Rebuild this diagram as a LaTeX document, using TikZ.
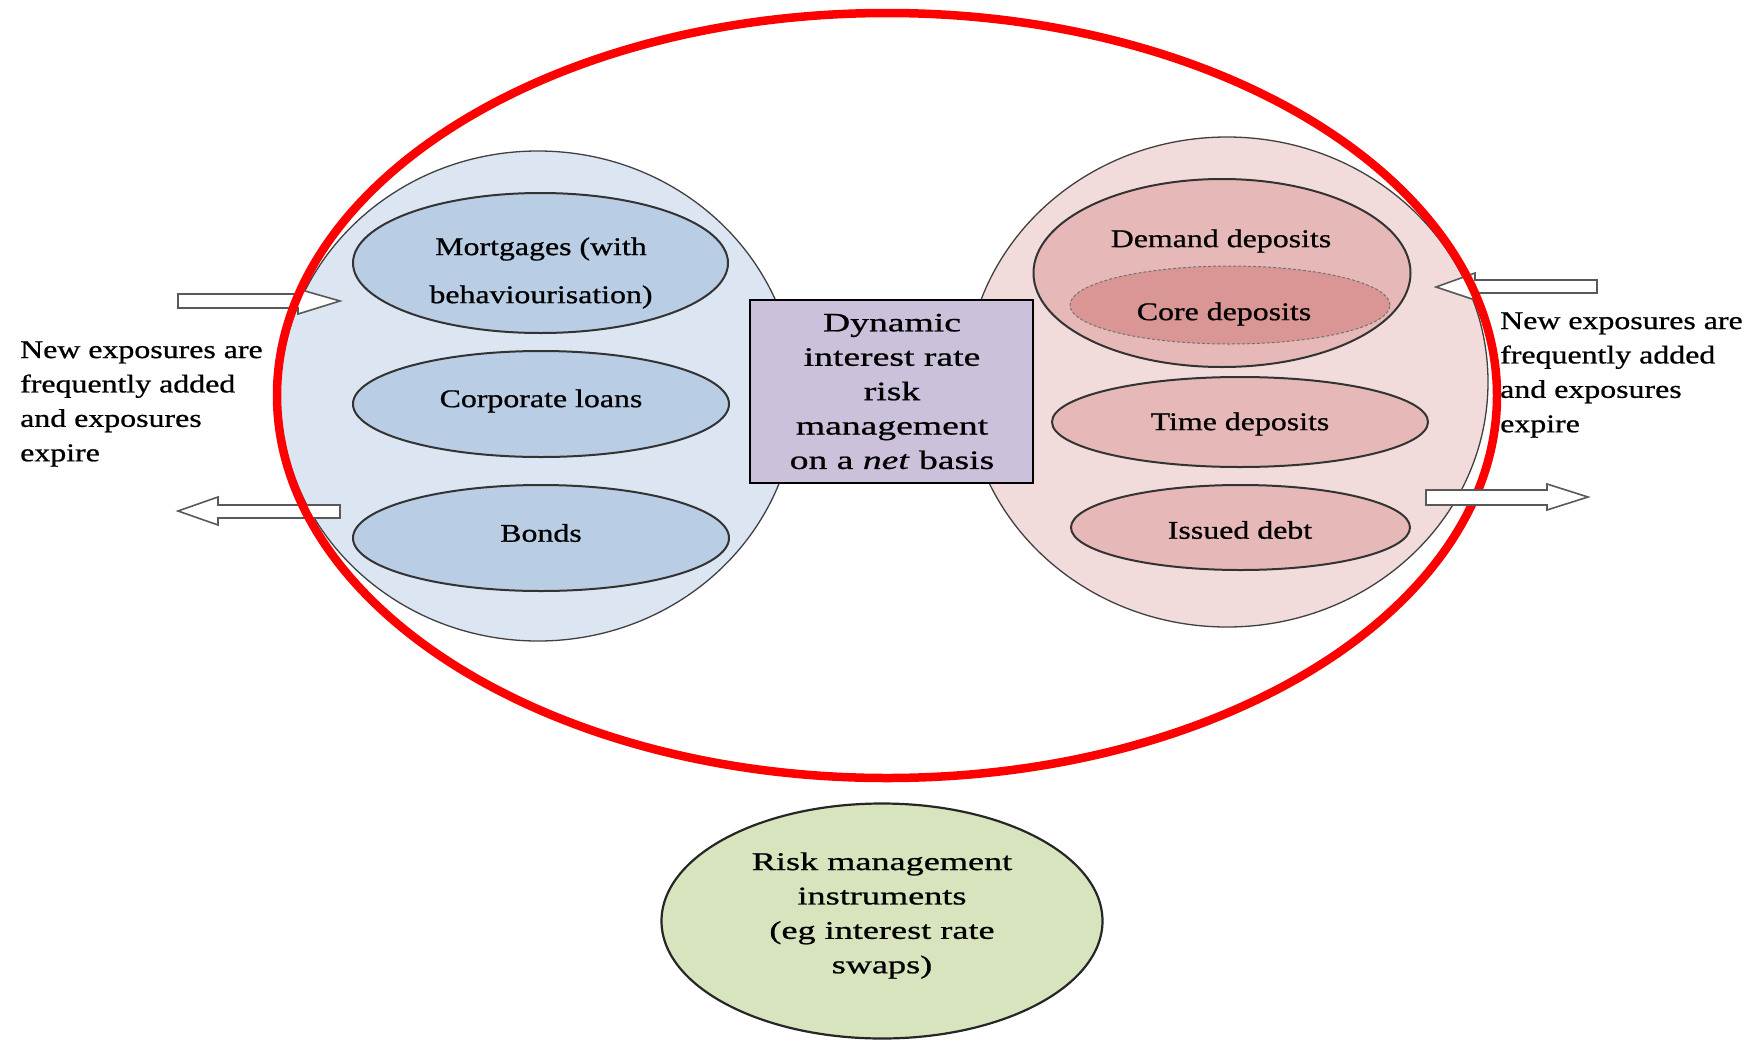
\documentclass[tikz,border=0pt]{standalone}
\usepackage{fontspec}
\setmainfont{Liberation Serif}[FakeStretch=1.25, FakeBold=0.8]
\newfontfamily\widefont{Liberation Serif}[FakeStretch=1.42, FakeBold=0.8]
\usetikzlibrary{shapes.geometric}

\definecolor{assetbg}{HTML}{DCE6F2}
\definecolor{assetitem}{HTML}{B9CDE5}
\definecolor{liabbg}{HTML}{F2DCDB}
\definecolor{liabitem}{HTML}{E6B9B8}
\definecolor{corefill}{HTML}{D99694}
\definecolor{netbox}{HTML}{CCC1DA}
\definecolor{hedgefill}{HTML}{D7E4BD}
\definecolor{scopered}{HTML}{FF0000}

\tikzset{
  side/.style={ellipse, draw=black!75, line width=1.3pt, inner sep=0pt},
  item/.style={ellipse, draw=black!80, line width=2pt, inner sep=0pt},
  lbl/.style={font=\fontsize{25.5}{34.4}\selectfont, inner sep=0pt},
  note/.style={lbl, align=left},
  widetxt/.style={font=\widefont\fontsize{26.5}{34.4}\selectfont, align=center, inner sep=0pt},
  blockarrow/.style={draw=black!65, line width=1.6pt, fill=white, line join=miter},
}

\begin{document}
\begin{tikzpicture}[x=1pt, y=-1pt]
\useasboundingbox (0,0) rectangle (1757,1042);

% asset side and liability side
\node[side, fill=assetbg, minimum width=516, minimum height=490] (assets) at (538,396) {};
\node[side, fill=liabbg, minimum width=522, minimum height=490] (liabs) at (1227,382) {};

% asset items
\node[item, fill=assetitem, minimum width=375, minimum height=140] (mort) at (540.5,263) {};
\node[lbl] (mortA) at (541,249) {Mortgages (with};
\node[lbl] (mortB) at (541,297) {behaviourisation)};
\node[item, fill=assetitem, minimum width=376, minimum height=106] (corp) at (541,404) {};
\node[lbl] (corpT) at (541,401) {Corporate loans};
\node[item, fill=assetitem, minimum width=376, minimum height=106] (bonds) at (541,538) {};
\node[lbl] (bondsT) at (541,533) {Bonds};

% liability items
\node[item, fill=liabitem, minimum width=377, minimum height=188] (demand) at (1222,273) {};
\node[lbl] (demandT) at (1221,241) {Demand deposits};
\node[ellipse, draw=black!55, densely dashed, line width=1pt, inner sep=0pt, fill=corefill,
      minimum width=320, minimum height=78] (core) at (1230,305) {};
\node[lbl] (coreT) at (1224,314) {Core deposits};
\node[item, fill=liabitem, minimum width=376, minimum height=90] (time) at (1240,422) {};
\node[lbl] (timeT) at (1240,424) {Time deposits};
\node[item, fill=liabitem, minimum width=339, minimum height=85] (debt) at (1240.5,527.5) {};
\node[lbl] (debtT) at (1240,530) {Issued debt};

% central management box
\node[draw=black, line width=2.5pt, fill=netbox, minimum width=283, minimum height=183,
      inner sep=0pt] (net) at (891.5,391.5) {};
\node[widetxt] (netT) at (892,391.5) {Dynamic\\interest rate\\risk\\management\\on a \textit{net} basis};

% hedging instruments
\node[ellipse, draw=black!85, line width=2.2pt, fill=hedgefill, inner sep=0pt,
      minimum width=441, minimum height=235] (hedge) at (882,921) {};
\node[widetxt, font=\widefont\fontsize{25.5}{34.4}\selectfont] (hedgeT) at (882,915.5)
  {Risk management\\instruments\\(eg interest rate\\swaps)};

% side notes
\node[note, anchor=west] (noteL) at (20,404) {New exposures are\\frequently added\\and exposures\\expire};
\node[note, anchor=west] (noteR) at (1500,375) {New exposures are\\frequently added\\and exposures\\expire};

% block arrows for new and expiring exposures
\draw[blockarrow] (178,294) -- (298,294) -- (298,289) -- (340,301) -- (298,314) -- (298,308) -- (178,308) -- cycle;
\draw[blockarrow] (340,505) -- (218,505) -- (218,497) -- (178,511) -- (218,525) -- (218,518) -- (340,518) -- cycle;
\draw[blockarrow] (1597,280) -- (1475,280) -- (1475,273) -- (1436,287) -- (1475,300) -- (1475,293) -- (1597,293) -- cycle;

% scope of the net risk management
\node[ellipse, draw=scopered, line width=8.5pt, inner sep=0pt,
      minimum width=1220, minimum height=765] (scope) at (887,395.5) {};

\draw[blockarrow] (1426,490) -- (1547,490) -- (1547,484) -- (1588,497) -- (1547,510) -- (1547,505) -- (1426,505) -- cycle;
\end{tikzpicture}
\end{document}
